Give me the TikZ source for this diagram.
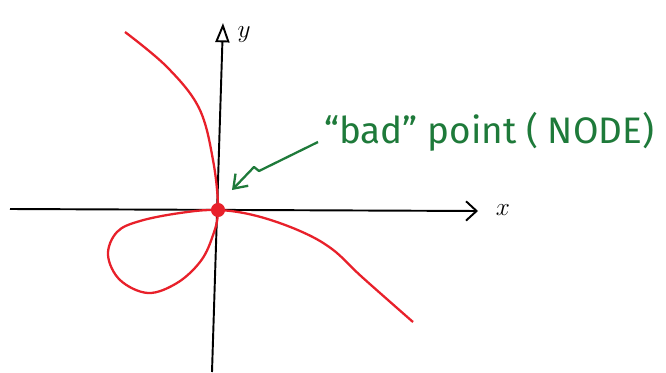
\documentclass[tikz,border=0pt]{standalone}
\usepackage{fontspec}
\usepackage{tikz}
\usetikzlibrary{arrows.meta,positioning}
\newfontfamily\handfont{Fira Sans}
\definecolor{curveRed}{HTML}{E8202A}
\definecolor{noteGreen}{HTML}{1E7A3A}
\begin{document}
\begin{tikzpicture}[
    x=0.02cm,y=-0.02cm,
    axis/.style={line width=1.1pt,black},
    curve/.style={line width=1.3pt,curveRed,line join=round},
    dot/.style={circle,fill=curveRed,inner sep=0pt,minimum size=8pt},
    note/.style={font=\handfont\fontsize{21}{24}\selectfont,text=noteGreen},
    arr/.style={line width=1.3pt,noteGreen,line join=round,
                -{Straight Barb[length=7pt,width=10pt,line width=1.3pt]}}
  ]
  \useasboundingbox[fill=white] (0,0) rectangle (666,372);
  %% axes
  \coordinate (xs) at (10,209);
  \coordinate (xe) at (478,211);
  \coordinate (ys) at (212,372);
  \coordinate (ye) at (223,23);
  \draw[axis,-{Straight Barb[length=6pt,width=11pt,line width=1.1pt]}] (xs) -- (xe);
  \draw[axis,-{Triangle[open,length=11pt,width=8pt,line width=1.1pt]}] (ys) -- (ye);
  \node[font=\Large] (xlab) at (503,210) {$x$};
  \node[font=\Large] (ylab) at (244,35) {$y$};
  %% the curve with its loop
  \draw[curve] plot[smooth,tension=0.6] coordinates {
      (125,32) (167,67) (199,108) (213,160) (218,210)
      (212,238) (200,262) (177,283) (148,293) (120,280) (108,255)
      (117,232) (140,221) (180,213) (218,210) (257,216) (300,231)
      (332,249) (362,277) (413,322)};
  \node[dot] (nd) at (218,210) {};
  %% label
  \node[note,anchor=west] (bad) at (318,132) {“bad” point ( NODE)};
  \coordinate (k1) at (259,171);
  \coordinate (k2) at (254,167);
  \coordinate (tip) at (232,190);
  \draw[arr] (bad.west|-0,142) -- (k1) -- (k2) -- (tip);
\end{tikzpicture}
\end{document}
